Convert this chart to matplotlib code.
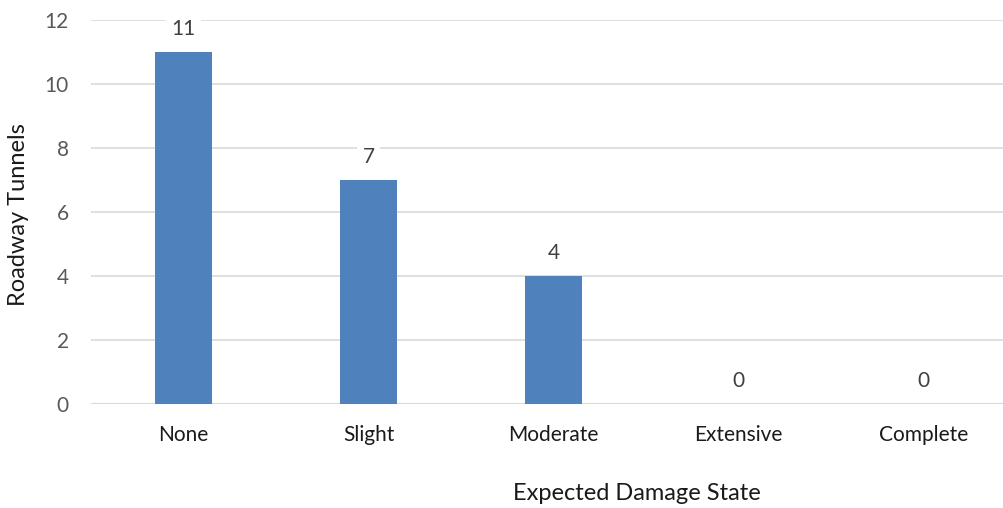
import numpy as np
import matplotlib.pyplot as plt

plt.rcParams["font.family"] = ["Lato", "DejaVu Sans"]

# data
states = ["None", "Slight", "Moderate", "Extensive", "Complete"]
tunnels = [11, 7, 4, 0, 0]

fig = plt.figure(figsize=(10.04, 5.08), dpi=100)
# plot area runs off the right edge, like the original
ax = fig.add_axes([91 / 1004, 1 - 404 / 508, 913 / 1004, 384 / 508])

x = np.arange(len(states))
ax.bar(x, tunnels, width=0.31, color="#4F81BD", zorder=3)

# data labels sit on a white box, hiding the gridline behind them
for xi, v in zip(x, tunnels):
    ax.text(xi, v + 0.4, str(v), ha="center", va="bottom",
            fontsize=15, color="#404040", zorder=4,
            bbox=dict(facecolor="white", edgecolor="none", pad=4))

ax.set_xlim(-0.5, -0.5 + 913 / 185)
ax.set_ylim(0, 12)
ax.set_yticks(np.arange(0, 13, 2))
ax.set_xticks(x)
ax.set_xticklabels(states)
ax.yaxis.grid(True, color="#D9D9D9", lw=1.2, zorder=0)
for s in ["top", "right", "left", "bottom"]:
    ax.spines[s].set_visible(False)
ax.axhline(0, color="#D9D9D9", lw=1.5, zorder=2)
ax.tick_params(axis="both", length=0)
ax.tick_params(axis="x", labelsize=15, labelcolor="#1a1a1a", pad=15)
ax.tick_params(axis="y", labelsize=15, labelcolor="#595959", pad=16)

fig.text(637 / 1004, 1 - 493 / 508, "Expected Damage State", ha="center",
         va="center", fontsize=17, color="#1a1a1a")
fig.text(19 / 1004, 1 - 215 / 508, "Roadway Tunnels", ha="center",
         va="center", rotation=90, fontsize=17, color="#1a1a1a")

fig.savefig("out.png", dpi=100)
